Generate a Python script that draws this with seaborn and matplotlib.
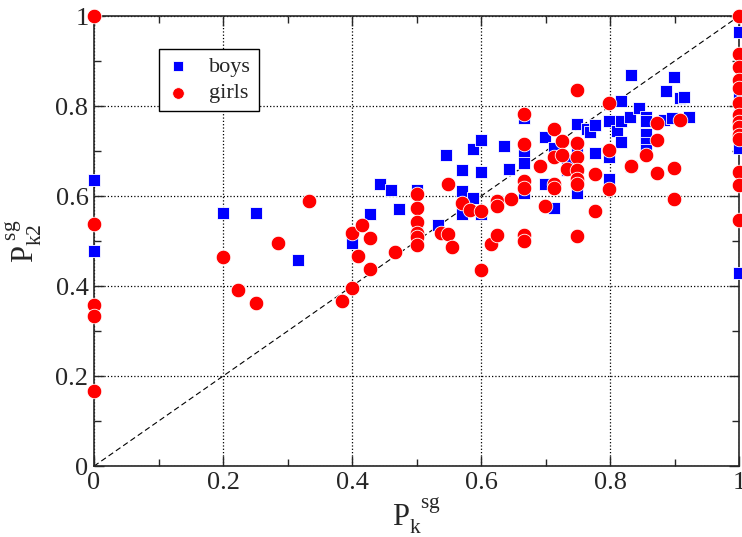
import numpy as np
import pandas as pd
import matplotlib
matplotlib.use('Agg')
import matplotlib.pyplot as plt
import seaborn as sns
from matplotlib.ticker import MultipleLocator

# boys: (P_k^sg, P_k2^sg)
boys_x = [0, 0, 0.2, 0.251, 0.316, 0.4, 0.428, 0.444, 0.461, 0.473, 0.5, 0.5,
          0.533, 0.545, 0.571, 0.571, 0.571, 0.588, 0.588, 0.6, 0.6, 0.6,
          0.636, 0.643, 0.667, 0.667, 0.667, 0.667, 0.699, 0.699, 0.713, 0.713,
          0.733, 0.733, 0.749, 0.749, 0.749, 0.764, 0.769, 0.777, 0.777, 0.799,
          0.799, 0.799, 0.811, 0.817, 0.817, 0.817, 0.831, 0.833, 0.833, 0.845,
          0.856, 0.856, 0.856, 0.856, 0.856, 0.884, 0.887, 0.896, 0.899, 0.908,
          0.915, 0.922, 1, 1, 1, 1, 1, 1, 1]
boys_y = [0.635, 0.478, 0.563, 0.563, 0.458, 0.495, 0.561, 0.626, 0.613, 0.572, 0.613, 0.52,
          0.536, 0.692, 0.657, 0.612, 0.561, 0.705, 0.595, 0.724, 0.653, 0.56,
          0.711, 0.661, 0.773, 0.693, 0.674, 0.606, 0.732, 0.627, 0.708, 0.573,
          0.68, 0.658, 0.76, 0.606, 0.70, 0.749, 0.743, 0.758, 0.696, 0.767,
          0.686, 0.638, 0.745, 0.812, 0.767, 0.721, 0.776, 0.870, 0.667, 0.795,
          0.775, 0.767, 0.739, 0.717, 0.702, 0.770, 0.833, 0.773, 0.864, 0.818,
          0.821, 0.776, 0.965, 0.832, 0.82, 0.78, 0.75, 0.706, 0.43]

girls_x = [0, 0, 0, 0, 0, 0.2, 0.223, 0.251, 0.286, 0.333, 0.385, 0.4, 0.4,
           0.409, 0.416, 0.428, 0.428, 0.467, 0.5, 0.5, 0.5, 0.5, 0.5, 0.5,
           0.538, 0.549, 0.555, 0.549, 0.571, 0.583, 0.6, 0.6, 0.615, 0.624,
           0.624, 0.624, 0.647, 0.667, 0.667, 0.667, 0.667, 0.667, 0.667, 0.691,
           0.699, 0.713, 0.726, 0.713, 0.726, 0.733, 0.713, 0.713, 0.749, 0.749,
           0.749, 0.749, 0.749, 0.749, 0.749, 0.777, 0.777, 0.799, 0.799, 0.799,
           0.833, 0.856, 0.873, 0.873, 0.873, 0.899, 0.899, 0.908,
           1, 1, 1, 1, 1, 1, 1, 1, 1, 1, 1, 1, 1, 1]
girls_y = [1.0, 0.538, 0.357, 0.333, 0.167, 0.464, 0.391, 0.363, 0.496, 0.590, 0.367, 0.395, 0.518,
           0.468, 0.536, 0.507, 0.438, 0.476, 0.604, 0.573, 0.542, 0.517, 0.51, 0.491,
           0.518, 0.516, 0.487, 0.626, 0.584, 0.569, 0.567, 0.435, 0.494, 0.589,
           0.578, 0.513, 0.593, 0.782, 0.715, 0.633, 0.617, 0.513, 0.5, 0.667,
           0.578, 0.749, 0.723, 0.687, 0.691, 0.661, 0.628, 0.618, 0.836, 0.717,
           0.687, 0.658, 0.637, 0.628, 0.511, 0.650, 0.567, 0.808, 0.702, 0.615,
           0.667, 0.691, 0.762, 0.724, 0.651, 0.663, 0.593, 0.769,
           1.0, 0.916, 0.887, 0.859, 0.841, 0.806, 0.78, 0.765, 0.754, 0.736, 0.728, 0.654, 0.624, 0.547]

sns.set_style('ticks')
plt.rcParams['font.family'] = ['Liberation Serif', 'DejaVu Serif']
plt.rcParams['mathtext.fontset'] = 'custom'
plt.rcParams['mathtext.rm'] = 'Liberation Serif'
plt.rcParams['mathtext.it'] = 'Liberation Serif'

boys = pd.DataFrame({'x': boys_x, 'y': boys_y})
girls = pd.DataFrame({'x': girls_x, 'y': girls_y})

fig = plt.figure(figsize=(7.42, 5.37), dpi=100)
ax = fig.add_axes([0.1267, 0.132, 0.8693, 0.838])

ax.plot([0, 1], [0, 1], color='black', ls=(0, (5, 3)), lw=0.8, zorder=1)
sns.scatterplot(data=boys, x='x', y='y', marker='s', color='#0000ff', s=80,
                edgecolor='white', linewidth=0.6, label='boys', clip_on=False, zorder=3, ax=ax)
sns.scatterplot(data=girls, x='x', y='y', marker='o', color='#ff0000', s=110,
                edgecolor='white', linewidth=0.6, label='girls', clip_on=False, zorder=4, ax=ax)

ax.set_xlim(0, 1)
ax.set_ylim(0, 1)
ax.xaxis.set_major_locator(MultipleLocator(0.2))
ax.yaxis.set_major_locator(MultipleLocator(0.2))
ax.xaxis.set_minor_locator(MultipleLocator(0.1))
ax.yaxis.set_minor_locator(MultipleLocator(0.1))
ax.xaxis.set_major_formatter(plt.FuncFormatter(lambda v, p: f'{v:g}'))
ax.yaxis.set_major_formatter(plt.FuncFormatter(lambda v, p: f'{v:g}'))
ax.tick_params(which='both', direction='in', top=True, right=True, labelsize=19, width=1)
ax.tick_params(which='major', length=7, pad=4)
ax.tick_params(which='minor', length=5)
ax.grid(True, which='major', color='black', ls=':', lw=0.9)
for sp in ax.spines.values():
    sp.set_linewidth(1.2)
    sp.set_zorder(2)

ax.set_xlabel(r'$\mathrm{P_{k}^{\ \ sg}}$', fontsize=22, labelpad=2)
ax.set_ylabel(r'$\mathrm{P_{k2}^{\ sg}}$', fontsize=22, labelpad=8)

leg = ax.legend(loc='upper left', bbox_to_anchor=(0.101, 0.927), borderaxespad=0,
                fancybox=False, edgecolor='black', framealpha=1, fontsize=16,
                handlelength=1.0, handletextpad=0.9, borderpad=0.35,
                labelspacing=0.25, markerscale=0.8)
leg.get_frame().set_linewidth(1.0)

fig.savefig('out.png', dpi=100)
